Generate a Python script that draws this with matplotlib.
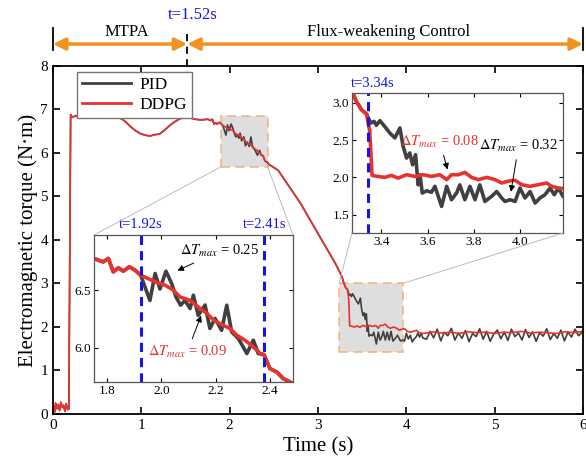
import numpy as np
import matplotlib
matplotlib.use("Agg")
import matplotlib.pyplot as plt
from matplotlib.patches import Rectangle, ConnectionPatch

plt.rcParams['font.family'] = ['Liberation Serif', 'DejaVu Serif']
plt.rcParams['mathtext.fontset'] = 'stix'

# DDPG torque (red)
ddpg_t = [0, 0.01, 0.02, 0.03, 0.045, 0.06, 0.075, 0.09, 0.105, 0.12, 0.135, 0.15, 0.165, 0.18, 0.19, 0.2,
          0.22, 0.26, 0.3, 0.34, 0.38, 0.42, 0.46, 0.5, 0.54, 0.58, 0.62, 0.66, 0.7, 0.74, 0.78,
          0.82, 0.87, 0.93, 0.985, 1.04, 1.1, 1.15, 1.21, 1.26, 1.32, 1.38, 1.44, 1.49, 1.53, 1.58, 1.63, 1.68, 1.72,
          1.752, 1.768, 1.786, 1.805, 1.823, 1.842, 1.86, 1.882, 1.903, 1.924, 1.952, 1.983, 2.014, 2.044, 2.069,
          2.106, 2.143, 2.167, 2.192, 2.222, 2.253, 2.278, 2.308, 2.339, 2.364, 2.378, 2.40, 2.425, 2.449, 2.474,
          2.55, 2.6, 2.7, 2.8, 2.9, 3.0, 3.1, 3.2, 3.272, 3.291, 3.313, 3.335, 3.349, 3.359,
          3.385, 3.414, 3.443, 3.472, 3.509, 3.545, 3.581, 3.617, 3.653, 3.683, 3.704, 3.733, 3.762, 3.791,
          3.82, 3.857, 3.893, 3.922, 3.95, 3.98, 4.009, 4.045, 4.081, 4.117, 4.139, 4.168, 4.188,
          4.25, 4.3, 4.4, 4.5, 4.6, 4.7, 4.8, 4.9, 5.0, 5.1, 5.2, 5.3, 5.4, 5.5, 5.6, 5.7, 5.8, 5.9, 6.0]
ddpg_T = [0, 0.18, 0.05, 0.25, 0.12, 0.22, 0.08, 0.27, 0.15, 0.2, 0.06, 0.24, 0.1, 0.12, 3.5, 6.88,
          6.82, 6.86, 6.8, 6.84, 6.81, 6.83, 6.8, 6.84, 6.81, 6.82, 6.8, 6.83, 6.8, 6.82, 6.78,
          6.72, 6.62, 6.52, 6.45, 6.41, 6.39, 6.42, 6.44, 6.52, 6.63, 6.72, 6.79, 6.82, 6.82, 6.79, 6.77, 6.76, 6.77,
          6.776, 6.761, 6.746, 6.776, 6.659, 6.694, 6.665, 6.703, 6.674, 6.63, 6.60, 6.567, 6.543, 6.50, 6.44,
          6.41, 6.34, 6.30, 6.24, 6.20, 6.166, 6.107, 6.064, 6.005, 5.948, 5.939, 5.817, 5.787, 5.73, 5.70,
          5.6, 5.45, 5.15, 4.85, 4.5, 4.15, 3.8, 3.45, 3.156, 3.02, 2.91, 2.852, 2.62, 2.027,
          2.013, 2.0, 2.027, 1.99, 2.036, 2.013, 2.036, 2.013, 2.036, 1.97, 2.036, 2.036, 2.067, 2.0,
          1.97, 2.0, 1.97, 1.925, 1.95, 1.96, 1.902, 1.88, 1.902, 1.925, 1.88, 1.857, 1.85,
          1.87, 1.89, 1.86, 1.88, 1.85, 1.89, 1.87, 1.88, 1.85, 1.88, 1.87, 1.9, 1.86, 1.88, 1.87, 1.85, 1.89, 1.87, 1.9]

# PID torque (gray): same as DDPG except these two stretches
pid_osc_t = [1.924, 1.958, 1.977, 1.995, 2.017, 2.038, 2.054, 2.071, 2.087, 2.106, 2.118, 2.136, 2.161,
             2.179, 2.198, 2.222, 2.241, 2.259, 2.284, 2.315, 2.339, 2.357, 2.378]
pid_osc_T = [6.63, 6.41, 6.645, 6.51, 6.665, 6.558, 6.44, 6.369, 6.41, 6.34, 6.456, 6.28, 6.37,
             6.166, 6.253, 6.15, 6.369, 6.136, 6.078, 5.948, 6.064, 5.948, 5.939]

pid_tail_t = [3.335, 3.353, 3.368, 3.378, 3.393, 3.414, 3.436, 3.458, 3.48, 3.494, 3.509, 3.523, 3.535, 3.548,
              3.559, 3.567, 3.577, 3.596, 3.617, 3.632, 3.661, 3.683, 3.704, 3.726, 3.74, 3.762, 3.784, 3.806,
              3.827, 3.849, 3.878, 3.9, 3.922, 3.936, 3.958, 3.98, 4.001, 4.023, 4.045, 4.067, 4.088, 4.11,
              4.132, 4.15, 4.168, 4.188,
              4.23, 4.27, 4.31, 4.35, 4.39, 4.43, 4.47, 4.51, 4.55, 4.59, 4.63, 4.67, 4.71, 4.75, 4.79, 4.83,
              4.87, 4.91, 4.95, 4.99, 5.03, 5.07, 5.11, 5.15, 5.19, 5.23, 5.27, 5.31, 5.35, 5.39, 5.43, 5.47,
              5.51, 5.55, 5.59, 5.63, 5.67, 5.71, 5.75, 5.79, 5.83, 5.87, 5.91, 5.95, 6.0]
pid_tail_T = [2.852, 2.73, 2.753, 2.70, 2.762, 2.685, 2.597, 2.53, 2.664, 2.417, 2.26, 2.328, 2.17, 2.305,
              1.90, 2.036, 1.79, 1.82, 1.80, 1.88, 1.61, 1.88, 1.70, 1.79, 1.90, 1.70, 1.88, 1.70,
              1.90, 1.677, 1.745, 1.81, 1.723, 1.677, 1.70, 1.677, 1.857, 1.723, 1.81, 1.656, 1.723, 1.768,
              1.857, 1.768, 1.857, 1.745,
              1.72, 1.90, 1.75, 1.95, 1.68, 1.88, 1.80, 1.97, 1.70, 1.86, 1.74, 1.92, 1.66, 1.85, 1.78, 1.96,
              1.72, 1.90, 1.67, 1.84, 1.93, 1.73, 1.88, 1.69, 1.95, 1.78, 1.86, 1.70, 1.94, 1.76, 1.89, 1.67,
              1.87, 1.79, 1.96, 1.71, 1.85, 1.74, 1.93, 1.68, 1.88, 1.77, 1.95, 1.80, 1.90]

t_switch = 1.52
t_zoom1 = [1.924, 2.38]
t_zoom2 = 3.34

ddpg_t = np.array(ddpg_t)
ddpg_T = np.array(ddpg_T)
m1 = ddpg_t < pid_osc_t[0]
m2 = (ddpg_t > pid_osc_t[-1]) & (ddpg_t < pid_tail_t[0])
pid_t = np.concatenate([ddpg_t[m1], pid_osc_t, ddpg_t[m2], pid_tail_t])
pid_T = np.concatenate([ddpg_T[m1], pid_osc_T, ddpg_T[m2], pid_tail_T])

red = '#E8322F'
gray = '#404040'
orange = '#F39220'
blue = '#1515E6'

fig = plt.figure(figsize=(5.86, 4.66), dpi=100)
ax = fig.add_axes([0.0904, 0.1116, 0.9044, 0.7468])
ax.plot(pid_t, pid_T, color=gray, lw=1.2, label='PID')
ax.plot(ddpg_t, ddpg_T, color=red, lw=1.2, label='DDPG')
ax.set_xlim(0, 6)
ax.set_ylim(0, 8)
ax.set_xticks(range(7))
ax.set_yticks(range(9))
ax.tick_params(direction='in', top=True, right=True, length=5, width=1.2, labelsize=11)
for s in ax.spines.values():
    s.set_linewidth(1.3)
ax.set_xlabel('Time (s)', fontsize=15)
ax.set_ylabel('Electromagnetic torque (N·m)', fontsize=15, labelpad=2)
ax.legend(loc='upper left', bbox_to_anchor=(0.045, 0.983), borderaxespad=0, fontsize=12.5,
          fancybox=False, edgecolor='#777777', handlelength=2.8, labelspacing=0.2,
          borderpad=0.3, handletextpad=0.5, framealpha=1)
for h in ax.get_legend().get_lines():
    h.set_linewidth(2)

# switch line
ax.plot([t_switch, t_switch], [6.82, 8.8], color='black', ls=(0, (4, 3)), lw=1.3, clip_on=False)

# zoom boxes
box1 = Rectangle((1.90, 5.68), 0.53, 1.17, facecolor='#D9D9D9', alpha=0.85,
                 edgecolor='#F4B17A', ls=(0, (5, 3)), lw=1.3, zorder=1)
box2 = Rectangle((3.24, 1.43), 0.72, 1.57, facecolor='#D9D9D9', alpha=0.85,
                 edgecolor='#F4B17A', ls=(0, (5, 3)), lw=1.3, zorder=1)
ax.add_patch(box1)
ax.add_patch(box2)

# top strip with arrows
sax = fig.add_axes([0.0904, 1 - 50 / 466, 0.9044, 22 / 466])
sax.set_xlim(0, 6)
sax.set_ylim(0, 1)
sax.set_xticks([])
sax.set_yticks([])
sax.patch.set_alpha(0)
sax.spines['top'].set_visible(False)
sax.spines['bottom'].set_visible(False)
sax.spines['left'].set_linewidth(1.3)
sax.spines['right'].set_linewidth(1.3)
for x0, x1 in [(0, t_switch), (t_switch, 6)]:
    sax.annotate('', xy=(x0, 0.27), xytext=(x1, 0.27),
                 arrowprops=dict(arrowstyle='<|-|>', color=orange, lw=2.5,
                                 mutation_scale=18, shrinkA=0, shrinkB=0))
sax.text(0.84, 0.8, 'MTPA', ha='center', va='center', fontsize=12)
sax.text(3.8, 0.8, 'Flux-weakening Control', ha='center', va='center', fontsize=12)
sax.text(1.58, 1.6, 't=1.52s', ha='center', va='center', fontsize=12, color=blue, clip_on=False)

# inset 1
ax1 = fig.add_axes([94 / 586, 1 - 382 / 466, 199 / 586, 147 / 466])
ax1.plot(pid_t, pid_T, color=gray, lw=2.6)
ax1.plot(ddpg_t, ddpg_T, color=red, lw=2.6)
ax1.set_xlim(1.752, 2.485)
ax1.set_ylim(5.70, 6.98)
ax1.set_xticks([1.8, 2.0, 2.2, 2.4])
ax1.set_yticks([6.0, 6.5])
ax1.set_yticklabels(['6.0', '6.5'])
for tv in t_zoom1:
    ax1.axvline(tv, color=blue, ls=(0, (3, 2)), lw=2.2)
tr1 = ax1.get_xaxis_transform()
ax1.text(t_zoom1[0], 1.03, 't=1.92s', transform=tr1, ha='center', va='bottom', fontsize=10.5, color=blue)
ax1.text(t_zoom1[1], 1.03, 't=2.41s', transform=tr1, ha='center', va='bottom', fontsize=10.5, color=blue)
ax1.annotate(r'$\Delta T_{max}$ = 0.25', xy=(2.05, 6.66), xytext=(2.215, 6.84), fontsize=10.5,
             ha='center', va='center',
             arrowprops=dict(arrowstyle='-|>', color='black', lw=0.7, mutation_scale=9))
ax1.annotate(r'$\Delta T_{max}$ = 0.09', xy=(2.15, 6.30), xytext=(2.095, 5.96), fontsize=10.5,
             ha='center', va='center', color=red,
             arrowprops=dict(arrowstyle='-|>', color='black', lw=0.7, mutation_scale=9))

# inset 2
ax2 = fig.add_axes([352 / 586, 1 - 233 / 466, 211 / 586, 140 / 466])
ax2.plot(pid_t, pid_T, color=gray, lw=2.6)
ax2.plot(ddpg_t, ddpg_T, color=red, lw=2.6)
ax2.set_xlim(3.272, 4.188)
ax2.set_ylim(1.253, 3.134)
ax2.set_xticks([3.4, 3.6, 3.8, 4.0])
ax2.set_yticks([1.5, 2.0, 2.5, 3.0])
ax2.axvline(t_zoom2, color=blue, ls=(0, (3, 2)), lw=2.2)
ax2.text(3.36, 1.02, 't=3.34s', transform=ax2.get_xaxis_transform(), ha='center', va='bottom',
         fontsize=10.5, color=blue)
ax2.annotate(r'$\Delta T_{max}$ = 0.08', xy=(3.69, 2.07), xytext=(3.653, 2.48), fontsize=10.5,
             ha='center', va='center', color=red,
             arrowprops=dict(arrowstyle='-|>', color='black', lw=0.7, mutation_scale=9))
ax2.annotate(r'$\Delta T_{max}$ = 0.32', xy=(3.96, 1.77), xytext=(3.995, 2.42), fontsize=10.5,
             ha='center', va='center', color='black',
             arrowprops=dict(arrowstyle='-|>', color='black', lw=0.7, mutation_scale=9))

for a in (ax1, ax2):
    a.tick_params(direction='in', top=True, right=True, length=3, width=0.8, labelsize=9.5, pad=2)
    for s in a.spines.values():
        s.set_linewidth(0.9)
        s.set_color('#555555')

# connector lines
for xyA, ia, xyB in [((1.90, 5.68), ax1, (0, 1)), ((2.43, 5.68), ax1, (1, 1)),
                     ((3.24, 3.0), ax2, (0, 0)), ((3.96, 3.0), ax2, (1, 0))]:
    con = ConnectionPatch(xyA=xyA, coordsA=ax.transData, xyB=xyB, coordsB=ia.transAxes,
                          color='#BBBBBB', lw=0.7)
    fig.add_artist(con)

fig.savefig('out.png', dpi=100)
